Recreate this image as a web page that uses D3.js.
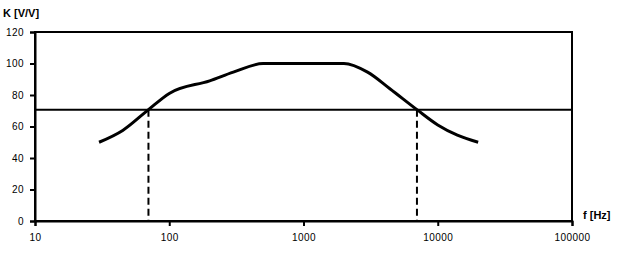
<!DOCTYPE html>
<html><head><meta charset="utf-8">
<script src="https://cdn.jsdelivr.net/npm/d3@7"></script>
<style>body{margin:0;background:#fff}svg{display:block}text{font-family:"Liberation Sans",Arial,sans-serif;fill:#000}</style>
</head><body><svg id="c" width="618" height="256"></svg>
<script>
const freqs = [30, 45, 70, 100, 200, 300, 500, 1000, 2000, 3000, 4400, 7000, 10000, 14000, 20000];
const gains = [50, 57.5, 70.7, 81, 89, 94.5, 100, 100, 100, 94.5, 84, 70.7, 61, 54.5, 50];
const cutoffLevel = 70.7;
const cutoffFreqs = [70, 7000];
const xTicks = [10, 100, 1000, 10000, 100000];
const yTicks = [0, 20, 40, 60, 80, 100, 120];
const yLabel = "K [V/V]";
const xLabel = "f [Hz]";

const svg = d3.select("#c");
const L = 35, R = 572, T = 32, B = 221;
const x = d3.scaleLog().domain([10, 100000]).range([L, R]);
const y = d3.scaleLinear().domain([0, 120]).range([B, T]);

// frame
svg.append("rect").attr("x", L).attr("y", T).attr("width", R - L).attr("height", B - T)
  .attr("fill", "none").attr("stroke", "#000").attr("stroke-width", 2);

const gx = svg.append("g").attr("transform", `translate(0,${B})`)
  .call(d3.axisBottom(x).tickValues(xTicks).tickFormat(d3.format("d")).tickSize(5).tickPadding(8));
const gy = svg.append("g").attr("transform", `translate(${L},0)`)
  .call(d3.axisLeft(y).tickValues(yTicks).tickSize(5).tickPadding(6));
[gx, gy].forEach(g => {
  g.select(".domain").attr("stroke", "#000").attr("stroke-width", 2);
  g.selectAll(".tick line").attr("stroke", "#000").attr("stroke-width", 2);
  g.selectAll(".tick text").attr("font-size", 10).attr("font-family", '"Liberation Sans",Arial,sans-serif').attr("fill", "#000").attr("letter-spacing", 0.4);
});

// cutoff horizontal line
svg.append("line").attr("x1", L).attr("x2", R).attr("y1", y(cutoffLevel)).attr("y2", y(cutoffLevel))
  .attr("stroke", "#000").attr("stroke-width", 2);

// dashed verticals
svg.selectAll(".dv").data(cutoffFreqs).join("line")
  .attr("x1", d => x(d)).attr("x2", d => x(d))
  .attr("y1", y(cutoffLevel)).attr("y2", B)
  .attr("stroke", "#000").attr("stroke-width", 2).attr("stroke-dasharray", "7,4");

// curve
const pts = freqs.map((f, i) => [f, gains[i]]);
svg.append("path").datum(pts)
  .attr("d", d3.line().x(d => x(d[0])).y(d => y(d[1])).curve(d3.curveMonotoneX))
  .attr("fill", "none").attr("stroke", "#000").attr("stroke-width", 3).attr("stroke-linejoin", "round");

svg.append("text").attr("x", 3).attr("y", 17).attr("font-size", 11).attr("font-weight", "bold").text(yLabel);
svg.append("text").attr("x", 583).attr("y", 219).attr("font-size", 11).attr("font-weight", "bold").text(xLabel);
</script></body></html>
